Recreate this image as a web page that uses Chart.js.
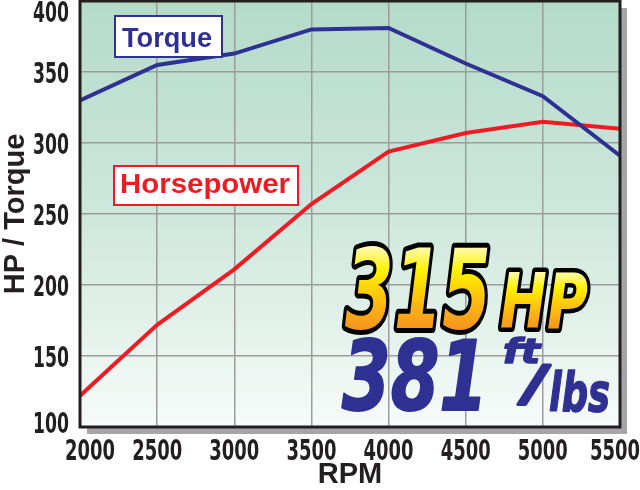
<!DOCTYPE html>
<html>
<head>
<meta charset="utf-8">
<script src="https://cdn.jsdelivr.net/npm/chart.js@4.4.1/dist/chart.umd.min.js"></script>
<style>
  html, body { margin: 0; padding: 0; background: #fff; overflow: hidden; }
  #wrap { width: 640px; height: 490px; }
</style>
</head>
<body>
<div id="wrap"><canvas id="dyno" width="640" height="490"></canvas></div>
<script>
// dyno sheet values
const rpm = [2000, 2500, 3000, 3500, 4000, 4500, 5000, 5500];
const torque = [330, 355, 363, 380, 381, 356, 333, 291];
const horsepower = [122, 172, 211, 257, 294, 307, 315, 310];
const yTicks = [100, 150, 200, 250, 300, 350, 400];

const BLUE = '#2e3192';
const RED = '#ed1c24';
const INK = '#231f20';
const COND = 'bold 28px "DejaVu Sans Condensed", "DejaVu Sans", sans-serif';
const SANS = '"Liberation Sans", Arial, sans-serif';

// draw a text squeezed horizontally to a given width (x = left edge, y = baseline)
function fitText(ctx, text, x, y, w, font, stroke) {
  ctx.font = font;
  const m = ctx.measureText(text).width;
  ctx.save();
  ctx.translate(x, y);
  ctx.scale(w / m, 1);
  if (stroke) {
    ctx.lineJoin = 'round';
    ctx.strokeText(text, 0, 0);
  }
  ctx.fillText(text, 0, 0);
  ctx.restore();
}

function goldFill(ctx, h) {
  // local coords: baseline at 0, top at -h
  const g = ctx.createLinearGradient(0, -h, 0, 0);
  g.addColorStop(0, '#fffbb8');
  g.addColorStop(0.3, '#fff200');
  g.addColorStop(0.65, '#fdc010');
  g.addColorStop(1, '#f7941d');
  return g;
}

const panelPlugin = {
  id: 'panel',
  beforeDraw(chart) {
    const { ctx, chartArea: a } = chart;
    ctx.save();
    // drop shadow
    ctx.fillStyle = '#a6a5aa';
    ctx.fillRect(a.left + 7, a.top + 7, a.right - a.left, a.bottom - a.top);
    // green to white wash
    const g = ctx.createLinearGradient(0, a.top, 0, a.bottom);
    g.addColorStop(0, '#b4dbca');
    g.addColorStop(0.5, '#cde7dc');
    g.addColorStop(1, '#f7fbf9');
    ctx.fillStyle = g;
    ctx.fillRect(a.left, a.top, a.right - a.left, a.bottom - a.top);
    ctx.restore();
  },
  afterDatasetsDraw(chart) {
    const { ctx, chartArea: a } = chart;
    ctx.save();
    ctx.strokeStyle = INK;
    ctx.lineWidth = 3;
    ctx.strokeRect(a.left, a.top, a.right - a.left, a.bottom - a.top);

    // tick labels in a narrow face, end labels kept inside the page
    ctx.fillStyle = INK;
    ctx.textAlign = 'left';
    ctx.textBaseline = 'alphabetic';
    const ys = chart.scales.y;
    ys.ticks.forEach(t => {
      const py = Math.max(22, Math.min(ys.getPixelForValue(t.value) + 11, 433));
      fitText(ctx, String(t.value), 69 - 36, py, 36, COND);
    });
    const xs = chart.scales.x;
    xs.ticks.forEach(t => {
      const px = Math.max(90, Math.min(xs.getPixelForValue(t.value), 615));
      fitText(ctx, String(t.value), px - 25, 460, 50, COND);
    });

    // series tags
    ctx.fillStyle = '#fff';
    ctx.fillRect(115, 16, 107, 41);
    ctx.fillRect(114, 166, 184, 39);
    ctx.lineWidth = 2;
    ctx.strokeStyle = BLUE;
    ctx.strokeRect(115, 16, 107, 41);
    ctx.strokeStyle = RED;
    ctx.strokeRect(114, 166, 184, 39);
    ctx.fillStyle = BLUE;
    fitText(ctx, 'Torque', 122, 47, 90, 'bold 27px ' + SANS);
    ctx.fillStyle = RED;
    fitText(ctx, 'Horsepower', 120, 193, 170, 'bold 27px ' + SANS);

    // peak figures
    ctx.fillStyle = goldFill(ctx, 82);
    ctx.strokeStyle = '#000';
    ctx.lineWidth = 10;
    fitText(ctx, '315', 345, 328, 146, 'italic bold 110px "DejaVu Sans", sans-serif', true);
    ctx.fillStyle = goldFill(ctx, 57);
    ctx.lineWidth = 9;
    fitText(ctx, 'HP', 500, 328, 88, 'italic bold 77px "DejaVu Sans", sans-serif', true);

    ctx.fillStyle = BLUE;
    ctx.strokeStyle = BLUE;
    ctx.lineWidth = 2;
    fitText(ctx, '381', 342, 410, 146, 'italic bold 96px "DejaVu Sans", sans-serif', true);
    ctx.lineWidth = 1.5;
    fitText(ctx, 'ft', 503, 363, 37, 'italic bold 33px "DejaVu Sans", sans-serif', true);
    ctx.lineWidth = 3;
    fitText(ctx, '/', 524, 400, 22, 'italic bold 48px "DejaVu Sans", sans-serif', true);
    ctx.lineWidth = 1.5;
    fitText(ctx, 'lbs', 549, 411, 61, 'italic bold 54px "DejaVu Sans", sans-serif', true);
    ctx.restore();
  }
};

const ctx = document.getElementById('dyno').getContext('2d');
new Chart(ctx, {
  type: 'line',
  data: {
    datasets: [{
      label: 'Torque',
      data: rpm.map((r, i) => ({ x: r, y: torque[i] })),
      borderColor: BLUE,
      borderWidth: 4,
      pointRadius: 0,
      tension: 0
    }, {
      label: 'Horsepower',
      data: rpm.map((r, i) => ({ x: r, y: horsepower[i] })),
      borderColor: RED,
      borderWidth: 4,
      pointRadius: 0,
      tension: 0
    }]
  },
  options: {
    responsive: false,
    animation: false,
    layout: { padding: { top: 1, right: 20, left: 0, bottom: 0 } },
    plugins: {
      legend: { display: false },
      tooltip: { enabled: false }
    },
    scales: {
      x: {
        type: 'linear',
        min: rpm[0],
        max: rpm[rpm.length - 1],
        afterFit(s) { s.height = 63; },
        afterBuildTicks(s) { s.ticks = rpm.map(v => ({ value: v })); },
        ticks: { display: false },
        grid: { color: '#9c9c9c', lineWidth: 1.5, drawTicks: false },
        border: { display: false },
        title: {
          display: true,
          text: 'RPM',
          color: INK,
          font: { size: 29, weight: 'bold', family: SANS, lineHeight: 1 },
          padding: { top: 0, bottom: 1 }
        }
      },
      y: {
        min: yTicks[0],
        max: yTicks[yTicks.length - 1],
        afterFit(s) { s.width = 80; },
        afterBuildTicks(s) { s.ticks = yTicks.map(v => ({ value: v })); },
        ticks: { display: false },
        grid: { color: '#9c9c9c', lineWidth: 1.5, drawTicks: false },
        border: { display: false },
        title: {
          display: true,
          text: 'HP / Torque',
          color: INK,
          font: { size: 29, weight: 'bold', family: SANS, lineHeight: 1 },
          padding: { top: 1, bottom: 0 }
        }
      }
    }
  },
  plugins: [panelPlugin]
});
</script>
</body>
</html>
